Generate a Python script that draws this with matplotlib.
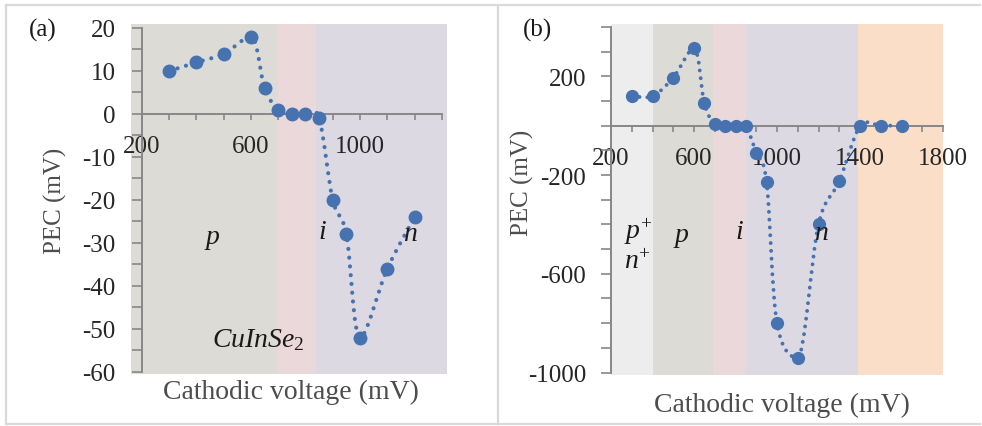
import matplotlib.pyplot as plt
from matplotlib.path import Path
from matplotlib.patches import PathPatch
from matplotlib.ticker import MultipleLocator
from matplotlib.lines import Line2D

plt.rcParams['font.family'] = ['Liberation Serif', 'DejaVu Serif']
plt.rcParams['axes.unicode_minus'] = False
plt.rcParams['mathtext.fontset'] = 'custom'
plt.rcParams['mathtext.rm'] = 'Liberation Serif'
plt.rcParams['mathtext.it'] = 'Liberation Serif:italic'

# (a) CuInSe2 film
a_volt = [300, 400, 500, 600, 650, 700, 750, 800, 850, 900, 950, 1000, 1100, 1200]
a_pec = [10, 12, 14, 18, 6, 1, 0, 0, -1, -20, -28, -52, -36, -24]
a_xticks = [200, 600, 1000]
a_yticks = [-60, -50, -40, -30, -20, -10, 0, 10, 20]
a_zones = [(160, 700), (700, 840), (840, 1319)]

# (b) second sample, wider voltage sweep
b_volt = [300, 400, 500, 600, 650, 700, 750, 800, 850, 900, 950, 1000,
          1100, 1200, 1300, 1400, 1500, 1600]
b_pec = [120, 120, 195, 315, 90, 5, -2, -2, -3, -110, -230, -800,
         -940, -400, -225, -3, 0, 0]
b_xticks = [200, 600, 1000, 1400, 1800]
b_yticks = [-1000, -600, -200, 200]
b_zones = [(200, 400), (400, 690), (690, 850), (850, 1390), (1390, 1800)]

zone_colors_a = ['#dcdbd5', '#ead8da', '#dcd9e3']
zone_colors_b = ['#ededed', '#dcdbd5', '#ead8da', '#dcd9e3', '#fbdec8']

BLUE = '#4672b0'
AXIS = '#878787'
W, H = 982, 427


def px_rect(x0, y0, x1, y1):
    # pixel box (top-left origin) -> figure fraction rect
    return [x0 / W, 1 - y1 / H, (x1 - x0) / W, (y1 - y0) / H]


def smooth_path(xs, ys):
    # bezier through the measured points; tangents from the neighbours,
    # flattened at peaks/valleys so the curve does not overshoot them
    n = len(xs)
    tx, ty = [], []
    for i in range(n):
        i0, i1 = max(i - 1, 0), min(i + 1, n - 1)
        dx = (xs[i1] - xs[i0]) / 6
        dy = (ys[i1] - ys[i0]) / 6
        if 0 < i < n - 1 and (ys[i] - ys[i0]) * (ys[i1] - ys[i]) < 0:
            dy = 0
        tx.append(dx)
        ty.append(dy)
    verts = [(xs[0], ys[0])]
    codes = [Path.MOVETO]
    for i in range(n - 1):
        verts += [(xs[i] + tx[i], ys[i] + ty[i]),
                  (xs[i + 1] - tx[i + 1], ys[i + 1] - ty[i + 1]),
                  (xs[i + 1], ys[i + 1])]
        codes += [Path.CURVE4] * 3
    return Path(verts, codes)


def draw_panel(ax, volt, pec, zones, colors, xlim, ylim, xticks, yticks,
               xminor, yminor, ms, lw, gap, ylabel_pad):
    for (z0, z1), c in zip(zones, colors):
        ax.axvspan(z0, z1, color=c, lw=0, zorder=0)
    ax.set_xlim(*xlim)
    ax.set_ylim(*ylim)
    ax.patch.set_alpha(0)

    line = PathPatch(smooth_path(volt, pec), fill=False, edgecolor=BLUE,
                     lw=lw, linestyle=(0, (0.01, gap)), capstyle='round', zorder=3)
    ax.add_patch(line)
    ax.plot(volt, pec, 'o', color=BLUE, ms=ms, mec=BLUE, zorder=4)

    for s in ['top', 'right']:
        ax.spines[s].set_visible(False)
    ax.spines['left'].set_position(('data', xticks[0]))
    ax.spines['bottom'].set_position(('data', 0))
    for s in ['left', 'bottom']:
        ax.spines[s].set_color(AXIS)
        ax.spines[s].set_linewidth(1.4)
        ax.spines[s].set_zorder(2)

    ax.set_xticks(xticks)
    ax.set_yticks(yticks)
    ax.xaxis.set_minor_locator(MultipleLocator(xminor))
    ax.yaxis.set_minor_locator(MultipleLocator(yminor))
    ax.tick_params(axis='x', which='both', direction='out', length=4, width=1.2,
                   color=AXIS, labelsize=18, labelcolor='#262626', pad=11)
    ax.tick_params(axis='y', which='both', direction='out', length=7, width=1.2,
                   color=AXIS, labelsize=18, labelcolor='#262626', pad=ylabel_pad)
    ax.set_xticklabels([str(t) for t in xticks])
    ax.set_yticklabels([str(t) for t in yticks])


fig = plt.figure(figsize=(W / 100, H / 100), dpi=100)

ax_a = fig.add_axes(px_rect(131, 25, 447, 375))
draw_panel(ax_a, a_volt, a_pec, a_zones, zone_colors_a, (160, 1319), (-60.47, 20.93),
           a_xticks, a_yticks, 100, 5, ms=9, lw=3.0, gap=2.1, ylabel_pad=12)
ax_a.spines['left'].set_bounds(-60, 20)
ax_a.spines['bottom'].set_bounds(200, 1300)

ax_b = fig.add_axes(px_rect(611, 25, 943, 376))
draw_panel(ax_b, b_volt, b_pec, b_zones, zone_colors_b, (200, 1800), (-1010, 412),
           b_xticks, b_yticks, 100, 100, ms=8.5, lw=2.8, gap=2.0, ylabel_pad=11)
ax_b.spines['left'].set_bounds(-1000, 400)
ax_b.spines['bottom'].set_bounds(200, 1800)

# region labels
lab = dict(ha='center', va='center', fontsize=20, style='italic', color='#1a1a1a', zorder=5)
ax_a.text(460, -28.4, 'p', **lab)
ax_a.text(860, -27.4, 'i', **lab)
ax_a.text(1183, -27.9, 'n', **lab)
ax_a.text(626, -52.3, r'$CuInSe_2$', **lab)

ax_b.text(330, -425, r'$p^{+}$', **lab)
ax_b.text(330, -550, r'$n^{+}$', **lab)
ax_b.text(542, -439, 'p', **lab)
ax_b.text(819, -427, 'i', **lab)
ax_b.text(1212, -431, 'n', **lab)

# panel captions and axis titles
fig.text(43 / W, 1 - 30 / H, '(a)', ha='center', va='center', fontsize=18, color='#1a1a1a')
fig.text(538 / W, 1 - 30 / H, '(b)', ha='center', va='center', fontsize=18, color='#1a1a1a')
for cx, cy in [(291, 392), (782, 405)]:
    fig.text(cx / W, 1 - cy / H, 'Cathodic voltage (mV)', ha='center', va='center',
             fontsize=20, color='#4d4d4d')
for cx, cy in [(55, 201), (522, 183)]:
    fig.text(cx / W, 1 - cy / H, 'PEC (mV)', ha='center', va='center', rotation=90,
             fontsize=18, color='#4d4d4d')

# light frame around the two panels
frame = dict(color='#d9d9d9', lw=1.6, transform=fig.transFigure)
fig.add_artist(Line2D([6 / W, 980 / W], [1 - 6 / H, 1 - 6 / H], **frame))
fig.add_artist(Line2D([6 / W, 980 / W], [1 - 425 / H, 1 - 425 / H], **frame))
fig.add_artist(Line2D([6 / W, 6 / W], [1 - 6 / H, 1 - 425 / H], **frame))
fig.add_artist(Line2D([498 / W, 498 / W], [1 - 6 / H, 1 - 425 / H], **frame))

fig.savefig('out.png', dpi=100)
